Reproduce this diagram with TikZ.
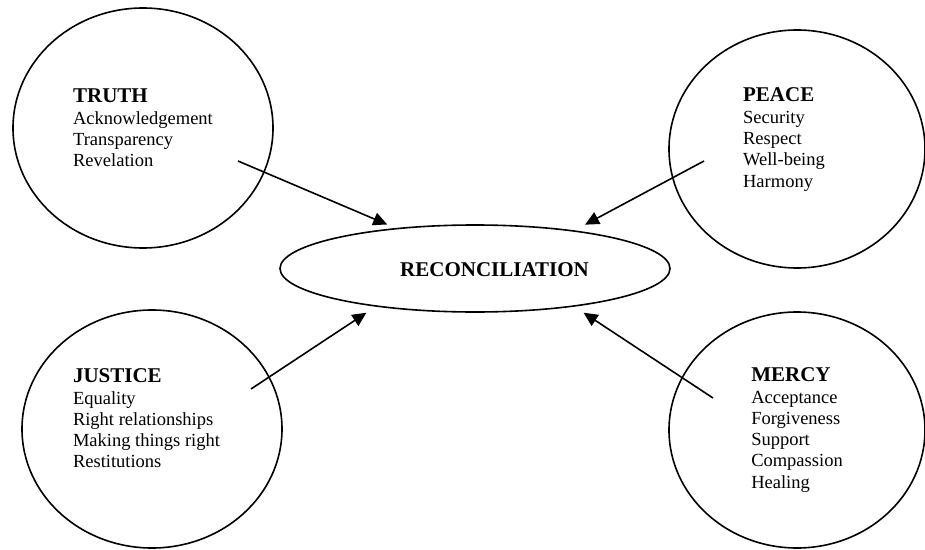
\documentclass[tikz,border=0pt]{standalone}
\usepackage{fontspec}
\setmainfont{Liberation Serif}
\usetikzlibrary{positioning,shapes.geometric,arrows.meta}
\newcommand{\circhead}[1]{{\fontsize{21}{21.3}\selectfont\bfseries #1}}
\begin{document}
\begin{tikzpicture}[-{Triangle[length=14pt,width=13pt]} ,on grid ,
line width=1.6pt ,
value/.style ={ ellipse ,draw , minimum width =260pt ,minimum height =240pt},
txt/.style ={ align=left ,line width=0pt ,font=\fontsize{18.5}{21.3}\selectfont}]
\useasboundingbox (-475pt,-280.5pt) rectangle (450pt,268.5pt);
\node[ellipse ,draw ,minimum width =390pt ,minimum height =87pt,
label={[txt,xshift=19.5pt,yshift=-1pt]center:\circhead{RECONCILIATION}}] (R) at (0,0) {};
\node[value,
label={[txt]center:\circhead{TRUTH}\\Acknowledgement\\Transparency\\Revelation}]
(T) [above left = 140.5pt and 332pt of R] {};
\node[value ,minimum width =256pt ,minimum height =238pt,
label={[txt,xshift=-13pt,yshift=9.5pt]center:\circhead{PEACE}\\Security\\Respect\\Well-being\\Harmony}]
(P) [above right = 119.5pt and 322pt of R] {};
\node[value ,minimum height =238pt,
label={[txt,xshift=-5.5pt,yshift=10.5pt]center:\circhead{JUSTICE}\\Equality\\Right relationships\\Making things right\\Restitutions}]
(J) [below left = 160.5pt and 323pt of R] {};
\node[value ,minimum width =256pt ,minimum height =236pt,
label={[txt]center:\circhead{MERCY}\\Acceptance\\Forgiveness\\Support\\Compassion\\Healing}]
(M) [below right = 161.5pt and 322pt of R] {};
% arrow tails inside the circles
\coordinate[below right = 33pt and 95pt of T] (Ta);
\coordinate[below left = 12pt and 93pt of P] (Pa);
\coordinate[above right = 40pt and 99pt of J] (Ja);
\coordinate[above left = 32pt and 84pt of M] (Ma);
\draw[shorten >=9pt] (Ta) -- (R.153);
\draw[shorten >=12pt] (Pa) -- (R.21);
\draw[shorten >=11pt] (Ja) -- (R.201);
\draw[shorten >=11pt] (Ma) -- (R.339);
\end{tikzpicture}
\end{document}
